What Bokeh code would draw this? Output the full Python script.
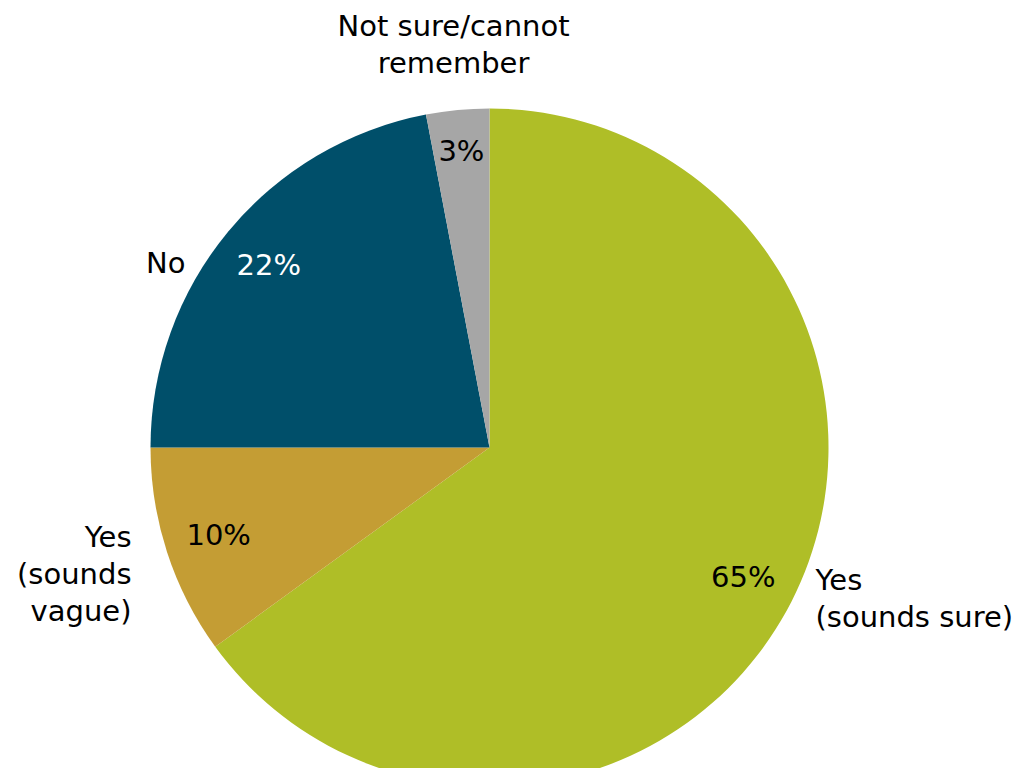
import math
from bokeh.plotting import figure
from bokeh.models import Range1d, ColumnDataSource
from bokeh.core.properties import value
from bokeh.embed import file_html
from bokeh.resources import INLINE

# ---- data ----
categories = ["Yes\n(sounds sure)", "Yes\n(sounds\nvague)", "No", "Not sure/cannot\nremember"]
shares = [65, 10, 22, 3]
pct_labels = ["65%", "10%", "22%", "3%"]
colors = ["#AFBE27", "#C49D34", "#004F6A", "#A6A6A6"]

# ---- layout (pixels, top-left origin) ----
W, H = 1018, 768
CX, CY = 489, H - 447
R = 339
pct_frac = [0.84, 0.84, 0.845, 0.88]
pct_colors = ["#000000", "#000000", "#FFFFFF", "#000000"]
cat_x = [815, 131, 185, 453]
cat_y0 = [579, 536, 262, 25]
cat_align = ["left", "right", "right", "center"]
LINE_H = 37
FONT = "DejaVu Sans"
FS = "29px"

p = figure(width=W, height=H, x_range=Range1d(0, W), y_range=Range1d(0, H),
           output_backend="svg", toolbar_location=None, min_border=0)
p.axis.visible = False
p.grid.visible = False
p.outline_line_color = None
p.background_fill_color = "white"
p.border_fill_color = "white"

total = float(sum(shares))
starts, ends, mids = [], [], []
acc = 0.0
for s in shares:
    a0 = math.pi / 2 - 2 * math.pi * acc / total
    acc += s
    a1 = math.pi / 2 - 2 * math.pi * acc / total
    starts.append(a0)
    ends.append(a1)
    mids.append((a0 + a1) / 2)

src = ColumnDataSource(dict(start=starts, end=ends, color=colors))
p.wedge(x=CX, y=CY, radius=R, start_angle="start", end_angle="end",
        direction="clock", fill_color="color", line_color=None, source=src)

px = [CX + R * f * math.cos(m) for f, m in zip(pct_frac, mids)]
py = [CY + R * f * math.sin(m) for f, m in zip(pct_frac, mids)]
p.text(x=px, y=py, text=pct_labels, text_color=pct_colors,
       text_font=value(FONT), text_font_size=FS,
       text_align="center", text_baseline="middle")

for x, y0, t, al in zip(cat_x, cat_y0, categories, cat_align):
    lines = t.split("\n")
    ys = [H - (y0 + i * LINE_H) for i in range(len(lines))]
    p.text(x=[x] * len(lines), y=ys, text=lines, text_color="#000000",
           text_font=value(FONT), text_font_size=FS,
           text_align=al, text_baseline="middle")

open("out.html", "w").write(file_html(p, INLINE))
